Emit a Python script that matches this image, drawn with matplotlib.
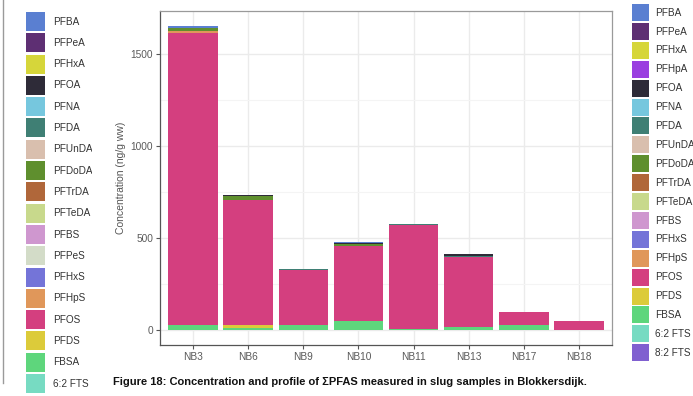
import numpy as np
import matplotlib
matplotlib.use("Agg")
import matplotlib.pyplot as plt
from matplotlib.patches import Patch, Rectangle
from matplotlib.lines import Line2D

plt.rcParams['font.family'] = ['Liberation Sans', 'DejaVu Sans']

samples = ["NB3", "NB6", "NB9", "NB10", "NB11", "NB13", "NB17", "NB18"]

# compounds in legend order (first one ends up on top of the stack)
compounds = ["PFBA", "PFPeA", "PFHxA", "PFHpA", "PFOA", "PFNA", "PFDA", "PFUnDA",
             "PFDoDA", "PFTrDA", "PFTeDA", "PFBS", "PFHxS", "PFHpS", "PFOS",
             "PFDS", "FBSA", "6:2 FTS", "8:2 FTS"]
colors = ["#5a7fd1", "#5e2f73", "#d6d63a", "#9a3fe0", "#2e2b38", "#76c7de",
          "#3f7f74", "#d9bfae", "#5f8f2e", "#b0673a", "#c8d98c", "#cf97cf",
          "#7474d8", "#e0975a", "#d43f7f", "#dccb3a", "#5ed67c", "#77dbc2",
          "#8060d0"]

# ng/g ww per sample
pfba = [8, 0, 0, 6, 0, 0, 0, 0]
pfoa = [0, 5, 0, 5, 0, 12, 0, 0]
pfda = [0, 0, 5, 0, 8, 4, 3, 2]
pfdoda = [18, 20, 0, 10, 0, 0, 0, 0]
pftrda = [0, 4, 0, 0, 0, 0, 0, 0]
pfhps = [10, 0, 0, 0, 0, 0, 0, 0]
pfos = [1588, 680, 298, 408, 563, 382, 68, 45]
pfds = [0, 13, 0, 0, 0, 0, 0, 0]
fbsa = [27, 12, 27, 49, 5, 15, 27, 2]

# the other legend (neighbouring figure), only partly visible
other_compounds = ["PFBA", "PFPeA", "PFHxA", "PFOA", "PFNA", "PFDA", "PFUnDA",
                   "PFDoDA", "PFTrDA", "PFTeDA", "PFBS", "PFPeS", "PFHxS",
                   "PFHpS", "PFOS", "PFDS", "FBSA", "6:2 FTS"]
other_colors = ["#5a7fd1", "#5e2f73", "#d6d63a", "#2e2b38", "#76c7de", "#3f7f74",
                "#d9bfae", "#5f8f2e", "#b0673a", "#c8d98c", "#cf97cf", "#d3dcc8",
                "#7474d8", "#e0975a", "#d43f7f", "#dccb3a", "#5ed67c", "#77dbc2"]

values = {c: np.zeros(len(samples)) for c in compounds}
values["PFBA"] = np.array(pfba, float)
values["PFOA"] = np.array(pfoa, float)
values["PFDA"] = np.array(pfda, float)
values["PFDoDA"] = np.array(pfdoda, float)
values["PFTrDA"] = np.array(pftrda, float)
values["PFHpS"] = np.array(pfhps, float)
values["PFOS"] = np.array(pfos, float)
values["PFDS"] = np.array(pfds, float)
values["FBSA"] = np.array(fbsa, float)

W, H = 693, 396
fig = plt.figure(figsize=(W / 100, H / 100), dpi=100)
ax = fig.add_axes([160 / W, (H - 345) / H, (612 - 160) / W, (345 - 11) / H])

x = np.arange(len(samples))
bottom = np.zeros(len(samples))
for c, col in zip(reversed(compounds), reversed(colors)):
    ax.bar(x, values[c], 0.9, bottom=bottom, color=col, linewidth=0, zorder=3)
    bottom += values[c]

ax.set_xlim(-0.6, len(samples) - 0.4)
ax.set_ylim(-82, 1734)
ax.set_xticks(x)
ax.set_xticklabels(samples)
ax.set_yticks([0, 500, 1000, 1500])
ax.set_yticks([250, 750, 1250], minor=True)
ax.grid(True, which="major", color="#ebebeb", linewidth=1.0, zorder=0)
ax.grid(True, which="minor", axis="y", color="#f4f4f4", linewidth=0.8, zorder=0)
ax.tick_params(axis="both", which="major", length=3, width=0.8, color="#555555",
               labelsize=7.3, labelcolor="#5a5a5a", pad=2)
ax.tick_params(axis="y", which="minor", length=0)
for s in ax.spines.values():
    s.set_color("#9a9a9a")
    s.set_linewidth(0.9)
ax.spines["left"].set_color("#555555")
ax.spines["bottom"].set_color("#555555")
ax.set_ylabel("Concentration (ng/g ww)", fontsize=7.5, color="#555555", labelpad=3)

fs = 7.2
fpx = fs * 100 / 72


def key_height(px):
    # legend handleheight that gives a patch of px pixels
    return (px / fpx - 0.245) / 0.65


handles = [Patch(facecolor=col, edgecolor="none") for col in colors]
fig.legend(handles, compounds, loc="upper left", bbox_to_anchor=(632 / W, 1 - 4 / H),
           frameon=False, fontsize=fs, handlelength=17 / fpx,
           handleheight=key_height(17), labelspacing=1.9 / fpx,
           handletextpad=6 / fpx, borderaxespad=0, borderpad=0,
           labelcolor="#333333")

other_handles = [Patch(facecolor=col, edgecolor="none") for col in other_colors]
fig.legend(other_handles, other_compounds, loc="upper left",
           bbox_to_anchor=(26 / W, 1 - 12 / H), frameon=False, fontsize=fs,
           handlelength=19 / fpx, handleheight=key_height(19),
           labelspacing=2.3 / fpx, handletextpad=8 / fpx, borderaxespad=0,
           borderpad=0, labelcolor="#333333")

# the neighbouring figure is cut off here
fig.add_artist(Rectangle((92 / W, 0), 20 / W, 1, transform=fig.transFigure,
                         facecolor="white", edgecolor="none", zorder=10))

# right edge of the neighbouring panel
fig.add_artist(Line2D([3 / W, 3 / W], [1 - 383 / H, 1], transform=fig.transFigure,
                      color="#9a9a9a", linewidth=1.0))

fig.text(113 / W, 1 - 385 / H,
         "Figure 18: Concentration and profile of \u03a3PFAS measured in slug samples in Blokkersdijk.",
         fontsize=8.0, fontweight="bold", color="#111111", ha="left", va="baseline",
         zorder=11)

fig.savefig("out.png", dpi=100)
